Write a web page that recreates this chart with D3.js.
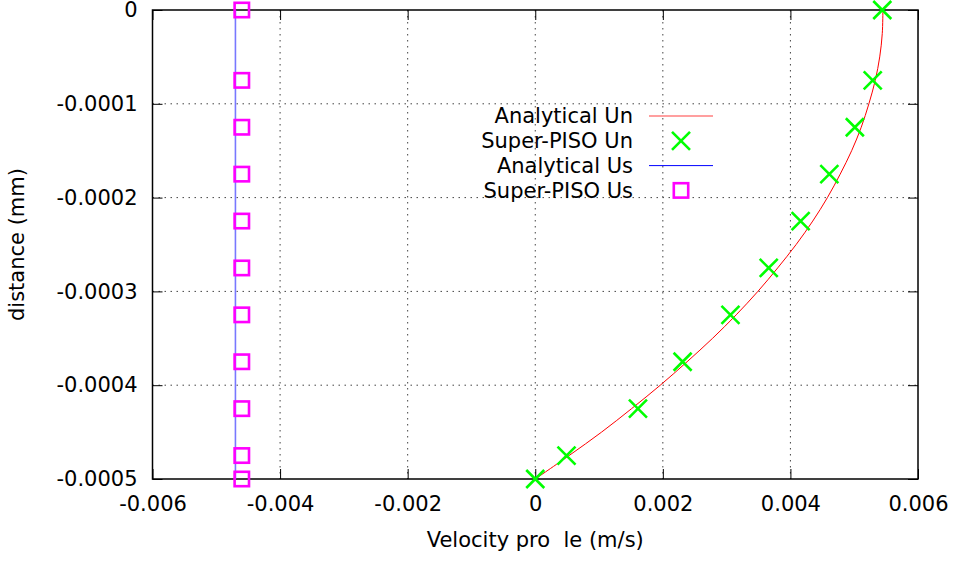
<!DOCTYPE html>
<html><head><meta charset="utf-8">
<script src="https://cdn.jsdelivr.net/npm/d3@7"></script>
<style>body{margin:0;background:#fff}svg text{font-family:"DejaVu Sans",sans-serif;}</style>
</head><body><svg id="c" width="956" height="561"></svg>
<script>
// Data (x: velocity m/s, y: distance mm)
const xTicks = [-0.006, -0.004, -0.002, 0, 0.002, 0.004, 0.006];
const yTicks = [0, -0.0001, -0.0002, -0.0003, -0.0004, -0.0005];
const xTickLabels = ["-0.006", "-0.004", "-0.002", "0", "0.002", "0.004", "0.006"];
const yTickLabels = ["0", "-0.0001", "-0.0002", "-0.0003", "-0.0004", "-0.0005"];

const analyticalUnY = [-0.0005,-0.000475,-0.00045,-0.000425,-0.0004,-0.000375,-0.00035,-0.000325,-0.0003,-0.000275,-0.00025,-0.000225,-0.0002,-0.000175,-0.00015,-0.000125,-0.0001,-0.000075,-0.00005,-0.000025,0];
const analyticalUnX = [0,0.00053,0.00104,0.00151,0.00196,0.00238,0.00278,0.00315,0.00349,0.00380,0.00409,0.00435,0.00458,0.00478,0.00496,0.00511,0.00523,0.00533,0.00540,0.00544,0.00545];

const superUnY = [0,-0.000075,-0.000125,-0.000175,-0.000225,-0.000275,-0.000325,-0.000375,-0.000425,-0.000475,-0.0005];
const superUnX = [0.00544,0.00529,0.00501,0.00461,0.00416,0.00366,0.00306,0.00231,0.00161,0.00049,0];

const analyticalUsY = [0, -0.0005];
const analyticalUsX = [-0.0047, -0.0047];

const superUsY = [0,-0.000075,-0.000125,-0.000175,-0.000225,-0.000275,-0.000325,-0.000375,-0.000425,-0.000475,-0.0005];
const superUsX = [-0.0046,-0.0046,-0.0046,-0.0046,-0.0046,-0.0046,-0.0046,-0.0046,-0.0046,-0.0046,-0.0046];

const legendLabels = ["Analytical Un", "Super-PISO Un", "Analytical Us", "Super-PISO Us"];

const FS = 21;
const svg = d3.select("#c");
const L = 152.5, R = 918, T = 10, B = 479;
const x = d3.scaleLinear().domain([-0.006, 0.006]).range([L, R]);
const y = d3.scaleLinear().domain([-0.0005, 0]).range([B, T]);

// grid
const g = svg.append("g");
xTicks.slice(1, -1).forEach(v => {
  g.append("line").attr("x1", x(v)).attr("x2", x(v)).attr("y1", T).attr("y2", B)
   .attr("stroke", "#444").attr("stroke-width", 1).attr("stroke-dasharray", "1.5,4.5");
});
yTicks.slice(1, -1).forEach(v => {
  g.append("line").attr("x1", L).attr("x2", R).attr("y1", y(v)).attr("y2", y(v))
   .attr("stroke", "#444").attr("stroke-width", 1).attr("stroke-dasharray", "1.5,4.5");
});

// axes with inward ticks
const fmtX = d => xTickLabels[xTicks.indexOf(d)];
const fmtY = d => yTickLabels[yTicks.indexOf(d)];
const ax = svg.append("g").attr("transform", `translate(0,${B})`)
  .call(d3.axisBottom(x).tickValues(xTicks).tickFormat(fmtX).tickSizeInner(-10).tickSizeOuter(0).tickPadding(17));
const axT = svg.append("g").attr("transform", `translate(0,${T})`)
  .call(d3.axisTop(x).tickValues(xTicks).tickFormat("").tickSizeInner(-10).tickSizeOuter(0));
const ay = svg.append("g").attr("transform", `translate(${L},0)`)
  .call(d3.axisLeft(y).tickValues(yTicks).tickFormat(fmtY).tickSizeInner(-10).tickSizeOuter(0).tickPadding(15));
const ayR = svg.append("g").attr("transform", `translate(${R},0)`)
  .call(d3.axisRight(y).tickValues(yTicks).tickFormat("").tickSizeInner(-10).tickSizeOuter(0));
[ax, axT, ay, ayR].forEach(a => {
  a.selectAll(".domain").remove();
  a.selectAll(".tick line").attr("stroke", "#000").attr("stroke-width", 1);
  a.selectAll("text").attr("font-size", FS).attr("fill", "#000").attr("font-family", "DejaVu Sans");
});
// border
svg.append("rect").attr("x", L).attr("y", T).attr("width", R - L).attr("height", B - T)
  .attr("fill", "none").attr("stroke", "#000").attr("stroke-width", 1.5);

// Analytical Us (blue line)
const lineGen = d3.line().x(d => x(d[0])).y(d => y(d[1]));
svg.append("path").datum(analyticalUsX.map((v, i) => [v, analyticalUsY[i]]))
  .attr("d", lineGen).attr("fill", "none").attr("stroke", "#7878ff").attr("stroke-width", 1.6);

// Analytical Un (red curve)
svg.append("path").datum(analyticalUnX.map((v, i) => [v, analyticalUnY[i]]))
  .attr("d", d3.line().x(d => x(d[0])).y(d => y(d[1])).curve(d3.curveCatmullRom))
  .attr("fill", "none").attr("stroke", "#ff0000").attr("stroke-width", 1);

// crosses
const cr = 9;
function cross(sel, cx, cy) {
  sel.append("path").attr("d", `M${cx - cr},${cy - cr}L${cx + cr},${cy + cr}M${cx - cr},${cy + cr}L${cx + cr},${cy - cr}`)
    .attr("stroke", "#00ff00").attr("stroke-width", 2.6).attr("fill", "none");
}
superUnX.forEach((v, i) => cross(svg, x(v), y(superUnY[i])));

// squares
const sq = 7.2;
function square(sel, cx, cy) {
  sel.append("rect").attr("x", cx - sq).attr("y", cy - sq).attr("width", 2 * sq).attr("height", 2 * sq)
    .attr("fill", "none").attr("stroke", "#ff00ff").attr("stroke-width", 2.6);
}
superUsX.forEach((v, i) => square(svg, x(v), y(superUsY[i])));

// legend
const legX = 633, legY0 = 116, legDy = 24.8;
legendLabels.forEach((t, i) => {
  svg.append("text").attr("x", legX).attr("y", legY0 + i * legDy).attr("dy", "0.35em")
    .attr("text-anchor", "end").attr("font-size", FS).text(t);
});
svg.append("line").attr("x1", 649).attr("x2", 713).attr("y1", legY0).attr("y2", legY0)
  .attr("stroke", "#ff7f7f").attr("stroke-width", 1.6);
cross(svg, 681, legY0 + legDy);
svg.append("line").attr("x1", 649).attr("x2", 713).attr("y1", legY0 + 2 * legDy).attr("y2", legY0 + 2 * legDy)
  .attr("stroke", "#0000ff").attr("stroke-width", 1);
square(svg, 681, legY0 + 3 * legDy);

// axis titles
svg.append("text").attr("x", (L + R) / 2).attr("y", 547).attr("text-anchor", "middle")
  .attr("font-size", FS).text("Velocity pro  le (m/s)").style("white-space", "pre");
svg.append("text").attr("transform", `translate(24,${(T + B) / 2}) rotate(-90)`)
  .attr("text-anchor", "middle").attr("font-size", FS).text("distance (mm)");
</script></body></html>
